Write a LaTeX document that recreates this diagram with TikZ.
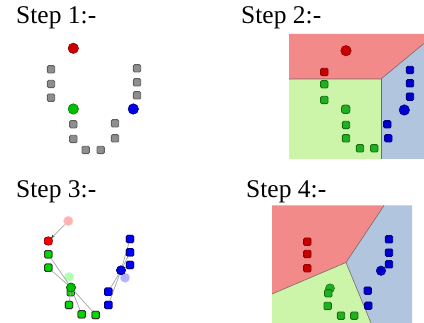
\documentclass[tikz,border=0pt]{standalone}
\usepackage{fontspec}
\setmainfont{Liberation Serif}
\newfontfamily\labelfont{Liberation Serif}
\usetikzlibrary{arrows.meta}

\definecolor{regred}{HTML}{F28A8A}
\definecolor{reggreen}{HTML}{CCF5AA}
\definecolor{regblue}{HTML}{B2C5DF}
\definecolor{edgeline}{HTML}{7A6464}
\definecolor{ptgray}{HTML}{8E8E8E}
\definecolor{ptgrayd}{HTML}{5E5E5E}
\definecolor{ptred}{HTML}{C80000}
\definecolor{ptredd}{HTML}{900000}
\definecolor{ptgreen}{HTML}{22B022}
\definecolor{ptgreend}{HTML}{127012}
\definecolor{ptblue}{HTML}{0000CC}
\definecolor{ptblued}{HTML}{000088}

\tikzset{
  steplabel/.style={anchor=base west, inner sep=0pt, font=\labelfont\fontsize{25.5}{28}\selectfont},
  sq/.style={rectangle, rounded corners=1.3pt, minimum size=7.4pt, inner sep=0pt, line width=0.9pt},
  dot/.style={circle, minimum size=10.5pt, inner sep=0pt, line width=0.5pt},
  graysq/.style={sq, fill=ptgray, draw=ptgrayd},
  redsq/.style={sq, fill=ptred, draw=ptredd},
  greensq/.style={sq, fill=ptgreen, draw=ptgreend},
  bluesq/.style={sq, fill=ptblue, draw=ptblued},
  redsqb/.style={sq, fill=red, draw=black!70},
  greensqb/.style={sq, fill=green!85!black, draw=black!80},
  bluesqb/.style={sq, fill=blue, draw=blue!50!black},
  region/.style={draw=edgeline, line width=0.6pt, line join=round},
  link/.style={draw=gray!70, line width=0.7pt},
}

\begin{document}
\begin{tikzpicture}[x=1pt, y=-1pt]
\useasboundingbox (0,0) rectangle (424,323);

% ---- labels ----
\node[steplabel] (l1) at (16,23.5) {Step 1:-};
\node[steplabel] (l2) at (241,23.5) {Step 2:-};
\node[steplabel] (l3) at (16,198) {Step 3:-};
\node[steplabel] (l4) at (246,198) {Step 4:-};

% ---- step 1: initial means and unassigned points ----
\node[dot, fill=ptred, draw=ptredd] (m1r) at (73.3,48.3) {};
\node[dot, fill=green!75!black, draw=green!45!black] (m1g) at (73.3,109) {};
\node[dot, fill=blue!90!black, draw=blue!50!black] (m1b) at (133.3,109) {};
\foreach \n/\x/\y in {a/51/69.3, b/51/84, c/51/97.7,
                      d/137/68.3, e/137/82.3, f/137/95.3,
                      g/73.3/124.3, h/73.3/139, i/85.7/150, j/100.7/150,
                      k/115/138.3, l/115/123.3}
  \node[graysq] (p1\n) at (\x,\y) {};

% ---- step 2: regions of the initial means ----
\fill[regred] (289,34) -- (424,34) -- (424,43.5) -- (381,79) -- (289,79) -- cycle;
\fill[reggreen] (289,79) -- (381,79) -- (381,159) -- (289,159) -- cycle;
\fill[regblue] (381,79) -- (424,43.5) -- (424,159) -- (381,159) -- cycle;
\draw[region] (289,79) -- (381,79) -- (424,43.5);
\draw[region] (381,79) -- (381,159);

\node[dot, fill=ptred, draw=ptredd] (m2r) at (346,50.7) {};
\node[redsq] (p2a) at (324.3,72) {};
\foreach \n/\x/\y in {b/324.3/84.3, c/324.3/100, g/346/125, h/346/138.3,
                      i/360/148.3, j/374.3/148.3}
  \node[greensq] (p2\n) at (\x,\y) {};
\node[sq, rounded corners=2.8pt, minimum size=8.5pt, fill=ptgreen, draw=ptgreend] (m2g) at (345.7,109.3) {};
\foreach \n/\x/\y in {d/410/70, e/410/83.3, f/410/96.7, l/387.3/124.3, k/388.3/138.3}
  \node[bluesq] (p2\n) at (\x,\y) {};
\node[dot, fill=ptblue, draw=ptblued] (m2b) at (404.3,110) {};

% ---- step 3: means move to the centroids ----
\node[dot, minimum size=9.5pt, fill=red!30, draw=red!20] (o3r) at (68.3,221) {};
\node[dot, minimum size=9.5pt, fill=green!30, draw=green!20] (o3g) at (69,277) {};
\node[dot, minimum size=9.5pt, fill=blue!30, draw=blue!20] (o3b) at (125,277.7) {};

\node[redsqb] (p3a) at (48.3,241) {};
\foreach \n/\x/\y in {b/48.3/254.3, c/48.3/267.7, g/70.7/292.3, h/69/305,
                      i/81.7/314.3, j/95.7/315}
  \node[greensqb] (p3\n) at (\x,\y) {};
\foreach \n/\x/\y in {d/130/239, e/130/252.3, f/130/265, l/108.3/291.7, k/108.3/305}
  \node[bluesqb] (p3\n) at (\x,\y) {};

\node[dot, minimum size=8.5pt, fill=red, draw=red!60!black] (m3r) at (48.3,241) {};
\node[dot, minimum size=9pt, fill=green!75!black, draw=green!35!black] (m3g) at (71,287.5) {};
\node[dot, minimum size=9pt, fill=blue!90!black, draw=blue!40!black] (m3b) at (121,270.3) {};

% links from each point to its cluster's new mean
\foreach \n in {b,c,h,i,j}
  \draw[link] (p3\n.center) -- (m3g.center);
\foreach \n in {d,e,f,l,k}
  \draw[link] (p3\n.center) -- (m3b.center);
\draw[link, -{Stealth[length=3pt, width=3pt, black!80]}] (o3r) -- (m3r);
% points drawn again on top of the links
\foreach \x/\y in {48.3/254.3, 48.3/267.7, 69/305, 81.7/314.3, 95.7/315}
  \node[greensqb] at (\x,\y) {};
\foreach \x/\y in {130/239, 130/252.3, 130/265, 108.3/291.7, 108.3/305}
  \node[bluesqb] at (\x,\y) {};
\node[dot, minimum size=9pt, fill=green!75!black, draw=green!35!black] at (71,287.5) {};
\node[dot, minimum size=9pt, fill=blue!90!black, draw=blue!40!black] at (121,270.3) {};

% ---- step 4: regions of the new means ----
\fill[regred] (272,205.5) -- (384,205.5) -- (346,262.5) -- (272,294) -- cycle;
\fill[regblue] (384,205.5) -- (412,205.5) -- (412,323) -- (371,323) -- (346,262.5) -- cycle;
\fill[reggreen] (272,294) -- (346,262.5) -- (371,323) -- (272,323) -- cycle;
\draw[region] (272,294) -- (346,262.5) -- (384,205.5);
\draw[region] (346,262.5) -- (371,323);

\foreach \n/\y in {a/241.7, b/254, c/268.3}
  \node[redsq] (p4\n) at (307.3,\y) {};
\node[dot, minimum size=9pt, fill=ptgreen, draw=ptgreend] (m4g) at (330,288.3) {};
\foreach \n/\x/\y in {g/328.3/293.3, h/327.7/306, i/341/315.7, j/354.3/315.7}
  \node[greensq] (p4\n) at (\x,\y) {};
\foreach \n/\x/\y in {d/389/239.3, e/389/252.7, f/389/264.3, l/367.7/290.7, k/368.3/305.7}
  \node[bluesq] (p4\n) at (\x,\y) {};
\node[dot, minimum size=9.5pt, fill=ptblue, draw=ptblued] (m4b) at (381,270.7) {};
\end{tikzpicture}
\end{document}
